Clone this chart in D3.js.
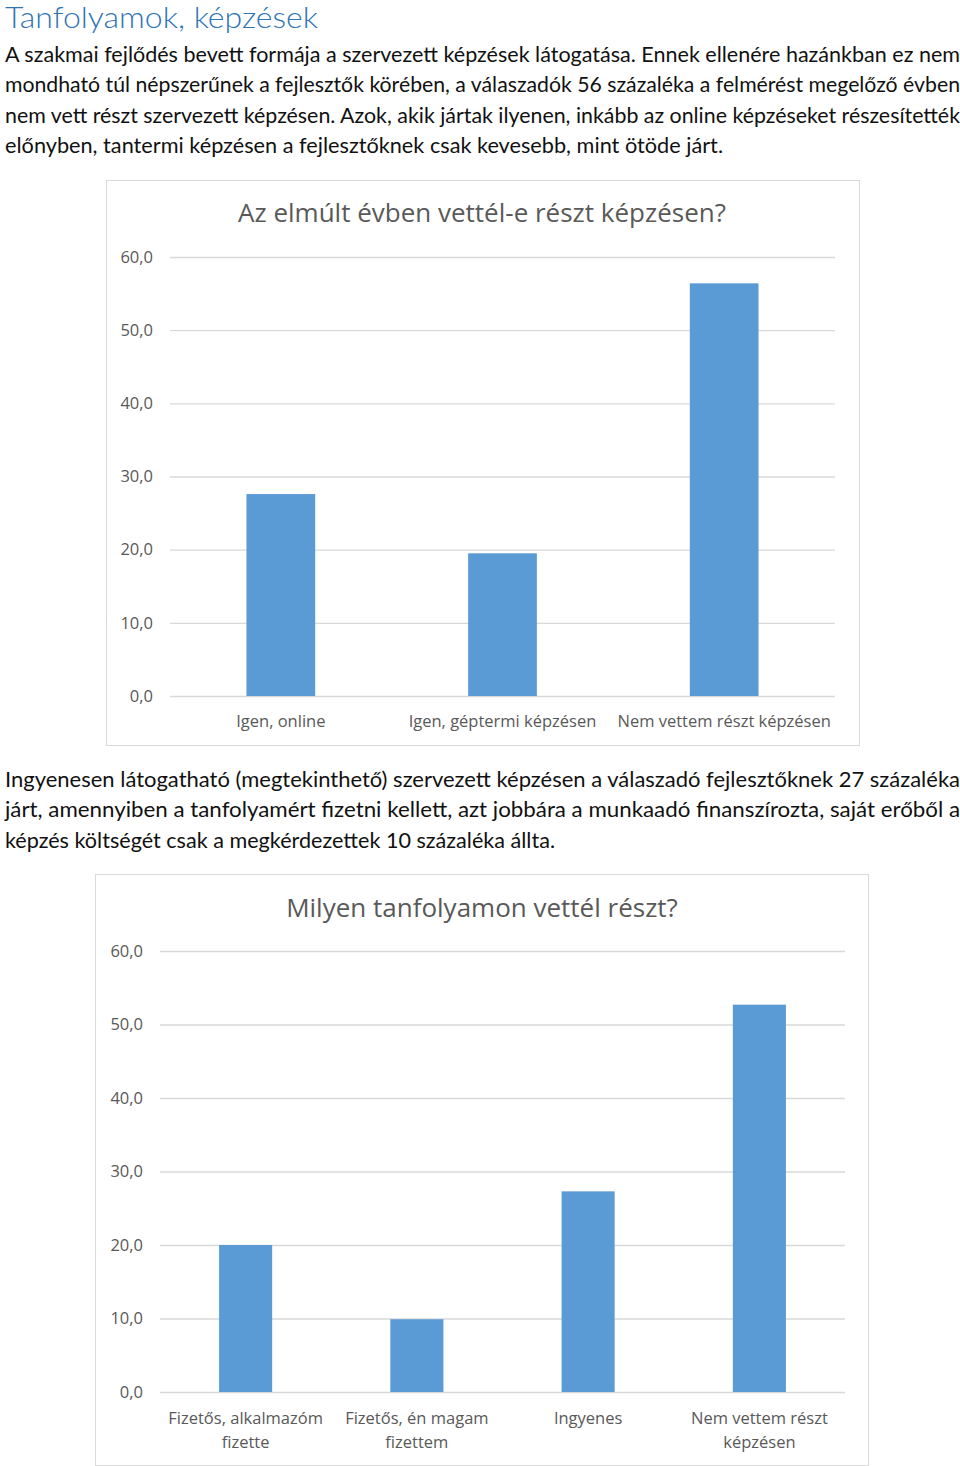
<!DOCTYPE html>
<html>
<head>
<meta charset="utf-8">
<script src="https://cdn.jsdelivr.net/npm/d3@7"></script>
<style>
    body { margin: 0; background: #ffffff; }
    svg { display: block; }
</style>
</head>
<body>
<div id="page"></div>
<script>

// Text of the page
const pageTitle = 'Tanfolyamok, képzések';

const paragraph1 = [
    'A szakmai fejlődés bevett formája a szervezett képzések látogatása. Ennek ellenére hazánkban ez nem',
    'mondható túl népszerűnek a fejlesztők körében, a válaszadók 56 százaléka a felmérést megelőző évben',
    'nem vett részt szervezett képzésen. Azok, akik jártak ilyenen, inkább az online képzéseket részesítették',
    'előnyben, tantermi képzésen a fejlesztőknek csak kevesebb, mint ötöde járt.'
];

const paragraph2 = [
    'Ingyenesen látogatható (megtekinthető) szervezett képzésen a válaszadó fejlesztőknek 27 százaléka',
    'járt, amennyiben a tanfolyamért fizetni kellett, azt jobbára a munkaadó finanszírozta, saját erőből a',
    'képzés költségét csak a megkérdezettek 10 százaléka állta.'
];

// Chart 1
const title1 = 'Az elmúlt évben vettél-e részt képzésen?';
const categories1 = ['Igen, online', 'Igen, géptermi képzésen', 'Nem vettem részt képzésen'];
const values1 = [27.6, 19.5, 56.4];

// Chart 2
const title2 = 'Milyen tanfolyamon vettél részt?';
const categories2 = ['Fizetős, alkalmazóm fizette', 'Fizetős, én magam fizettem', 'Ingyenes', 'Nem vettem részt képzésen'];
const values2 = [20.0, 9.9, 27.3, 52.7];

// Shared y axis
const yTicks = [0, 10, 20, 30, 40, 50, 60];

const width = 960;
const height = 1466;

const huLocale = d3.formatLocale({ decimal: ',', thousands: ' ', grouping: [3], currency: ['', ' Ft'] });
const fmt = huLocale.format('.1f');

const textFont = 'Lato, "Liberation Sans", sans-serif';
const chartFont = '"Open Sans", "DejaVu Sans", sans-serif';

const svg = d3
    .select('#page')
    .append('svg')
    .attr('width', width)
    .attr('height', height)
;

// Page heading
svg.append('text')
    .attr('x', 5)
    .attr('y', 28)
    .attr('textLength', 313)
    .attr('lengthAdjust', 'spacingAndGlyphs')
    .style('font-family', textFont)
    .style('font-weight', 300)
    .style('font-size', '29px')
    .style('fill', '#2e74b5')
    .text(pageTitle)
;

// Justified paragraph lines, last line keeps its natural width
function drawParagraph(lines, firstBaseline, lastWidth) {
    svg.append('g')
        .selectAll('text')
        .data(lines)
        .enter()
        .append('text')
        .attr('x', 5)
        .attr('y', (_, i) => firstBaseline + i * 30.3)
        .attr('textLength', (_, i) => i < lines.length - 1 ? 955 : lastWidth)
        .attr('lengthAdjust', 'spacingAndGlyphs')
        .style('font-family', textFont)
        .style('font-size', '21px')
        .style('fill', '#111111')
        .text(d => d)
    ;
}

drawParagraph(paragraph1, 62, 718);
drawParagraph(paragraph2, 787, 550);

// Wrap category labels into several lines if needed
function wrap(textSel, maxWidth, lineHeight) {
    textSel.each(function () {
        const text = d3.select(this);
        const words = text.text().split(' ');
        const y = text.attr('y');
        text.text(null);
        let line = [];
        let lineNo = 0;
        let tspan = text.append('tspan').attr('x', text.attr('x')).attr('y', y);
        words.forEach(w => {
            line.push(w);
            tspan.text(line.join(' '));
            if (tspan.node().getComputedTextLength() > maxWidth && line.length > 1) {
                line.pop();
                tspan.text(line.join(' '));
                line = [w];
                lineNo++;
                tspan = text.append('tspan')
                    .attr('x', text.attr('x'))
                    .attr('y', +y + lineNo * lineHeight)
                    .text(w);
            }
        });
    });
}

function drawChart(cfg) {

    const g = svg.append('g');

    // Chart frame
    g.append('rect')
        .attr('x', cfg.frame[0] + 0.5)
        .attr('y', cfg.frame[1] + 0.5)
        .attr('width', cfg.frame[2] - cfg.frame[0])
        .attr('height', cfg.frame[3] - cfg.frame[1])
        .style('fill', '#ffffff')
        .style('stroke', '#d9d9d9')
        .style('stroke-width', 1)
    ;

    const x = d3
        .scaleBand()
        .domain(cfg.categories)
        .range([cfg.left, cfg.right])
        .paddingInner(0.69)
        .paddingOuter(0.345)
    ;
    const y = d3
        .scaleLinear()
        .domain([0, 60])
        .range([cfg.bottom, cfg.top])
    ;

    // Title
    g.append('text')
        .attr('x', cfg.titleX)
        .attr('y', cfg.titleY)
        .attr('text-anchor', 'middle')
        .style('font-family', chartFont)
        .style('font-size', '26px')
        .style('fill', '#595959')
        .text(cfg.title)
    ;

    // Gridlines and y labels
    const yAxis = d3
        .axisLeft(y)
        .tickValues(yTicks)
        .tickSize(-(cfg.right - cfg.left))
        .tickPadding(cfg.labelGap)
        .tickFormat(fmt)
    ;
    const axisG = g.append('g')
        .attr('transform', `translate(${cfg.left}, 0)`)
        .call(yAxis)
    ;
    axisG.select('.domain').remove();
    axisG.selectAll('.tick line')
        .style('stroke', '#d9d9d9')
        .style('stroke-width', 1.3)
    ;
    axisG.selectAll('.tick text')
        .style('font-family', chartFont)
        .style('font-size', '16.5px')
        .style('fill', '#595959')
    ;

    // Bars
    g.append('g')
        .selectAll('rect')
        .data(cfg.values)
        .enter()
        .append('rect')
        .attr('x', (_, i) => x(cfg.categories[i]))
        .attr('y', d => y(d))
        .attr('width', x.bandwidth())
        .attr('height', d => y(0) - y(d))
        .style('fill', '#5b9bd5')
    ;

    // Category labels
    const labels = g.append('g')
        .selectAll('text')
        .data(cfg.categories)
        .enter()
        .append('text')
        .attr('x', d => x(d) + x.bandwidth() / 2)
        .attr('y', cfg.bottom + cfg.catGap)
        .attr('text-anchor', 'middle')
        .style('font-family', chartFont)
        .style('font-size', '16.5px')
        .style('fill', '#595959')
        .text(d => d)
    ;
    if (cfg.wrapWidth) wrap(labels, cfg.wrapWidth, 24);
}

drawChart({
    frame: [106, 180, 859, 745],
    left: 170, right: 835, top: 257, bottom: 696,
    titleX: 482, titleY: 222,
    labelGap: 17, catGap: 31,
    title: title1, categories: categories1, values: values1
});

drawChart({
    frame: [95, 874, 868, 1465],
    left: 160, right: 845, top: 951, bottom: 1392,
    titleX: 482, titleY: 917,
    labelGap: 17, catGap: 32,
    wrapWidth: 168,
    title: title2, categories: categories2, values: values2
});

</script>
</body>
</html>
